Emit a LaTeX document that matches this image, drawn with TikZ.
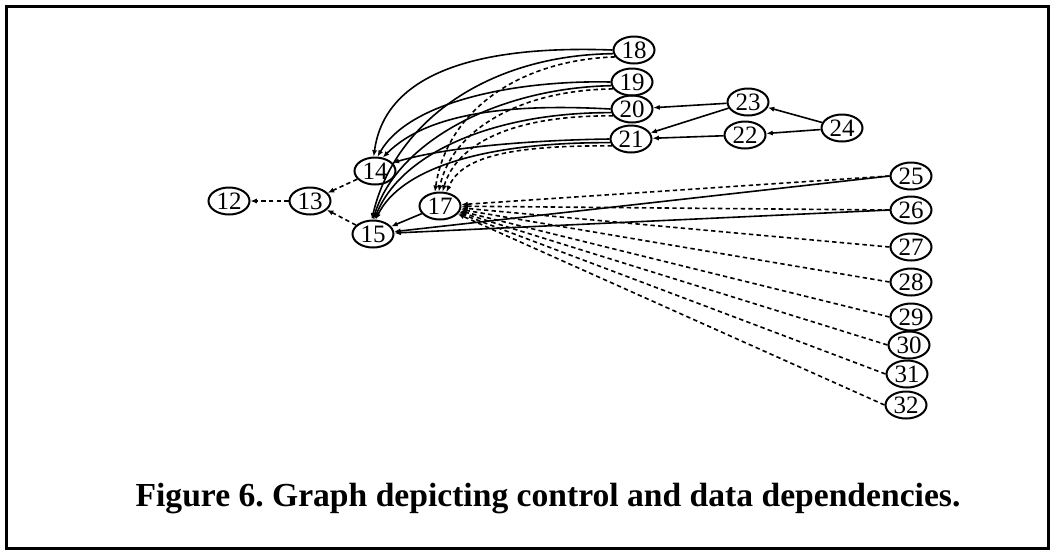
\documentclass[tikz,border=0pt]{standalone}
\usepackage{fontspec}
\setmainfont{Liberation Serif}
\usetikzlibrary{arrows.meta,shapes.geometric}
\frenchspacing
\begin{document}
\begin{tikzpicture}[x=0.5pt,y=-0.5pt,
  vtx/.style={draw,ellipse,line width=1pt,minimum width=20.5pt,minimum height=13.5pt,
    inner sep=0pt,font=\fontsize{12.5}{12.5}\selectfont},
  ctl/.style={line width=0.8pt,-{Latex[length=3.2pt,width=2.6pt]}},
  dat/.style={ctl,dash pattern=on 2.2pt off 1.6pt},
  frame/.style={line width=1.5pt}]
\useasboundingbox (0,0) rectangle (1054,554);
\draw[frame] (6.5,6.5) rectangle (1048,548);

% vertices
\node[vtx] (12) at (229,201) {12};
\node[vtx] (13) at (310,201) {13};
\node[vtx] (14) at (375,171) {14};
\node[vtx] (15) at (373,234) {15};
\node[vtx] (17) at (440,206) {17};
\node[vtx] (18) at (634,50) {18};
\node[vtx] (19) at (632,82) {19};
\node[vtx] (20) at (632,109) {20};
\node[vtx] (21) at (631,139) {21};
\node[vtx] (22) at (745,135) {22};
\node[vtx] (23) at (748,102) {23};
\node[vtx] (24) at (842,128) {24};
\node[vtx] (25) at (911,176) {25};
\node[vtx] (26) at (911,210) {26};
\node[vtx] (27) at (911,247) {27};
\node[vtx] (28) at (911,282) {28};
\node[vtx] (29) at (911,317) {29};
\node[vtx] (30) at (909,345) {30};
\node[vtx] (31) at (907,374) {31};
\node[vtx] (32) at (906,405) {32};

% left chain
\draw[dat] (13) -- (12);
\draw[dat] (14) -- (13);
\draw[dat] (15) -- (13);

% upper right cluster
\draw[ctl] (23) -- (20);
\draw[ctl] (23) -- (21);
\draw[ctl] (22) -- (21);
\draw[ctl] (24) -- (23);
\draw[ctl] (24) -- (22);

% control edges into 14
\draw[ctl] (18.west) .. controls (480,45) and (385,72) .. (14.95);
\draw[ctl] (19.west) .. controls (520,80) and (410,100) .. (14.80);
\draw[ctl] (20.west) .. controls (520,104) and (430,110) .. (14.60);
\draw[ctl] (21.west) .. controls (540,140) and (450,146) .. (14.25);

% control edges into 15
\draw[ctl] (18.190) .. controls (490,55) and (395,120) .. (15.95);
\draw[ctl] (19.190) .. controls (500,88) and (398,140) .. (15.90);
\draw[ctl] (20.190) .. controls (500,112) and (402,150) .. (15.85);
\draw[ctl] (21.190) .. controls (480,142) and (400,170) .. (15.80);

% data edges into 17
\draw[dat] (18.200) .. controls (520,60) and (447,110) .. (17.110);
\draw[dat] (19.200) .. controls (520,90) and (452,130) .. (17.95);
\draw[dat] (20.200) .. controls (510,115) and (456,145) .. (17.80);
\draw[dat] (21.200) .. controls (500,145) and (460,160) .. (17.65);

% edges from the right column
\draw[ctl] (17) -- (15);
\draw[ctl] (25.west) -- (15);
\draw[ctl] (26.west) -- (15);
\foreach \v in {25,...,32}
  \draw[dat] (\v.west) -- (17);

\node[font=\bfseries\fontsize{16.8}{20}\selectfont] (cap) at (548,499)
  {Figure 6. Graph depicting control and data dependencies.};
\end{tikzpicture}
\end{document}
